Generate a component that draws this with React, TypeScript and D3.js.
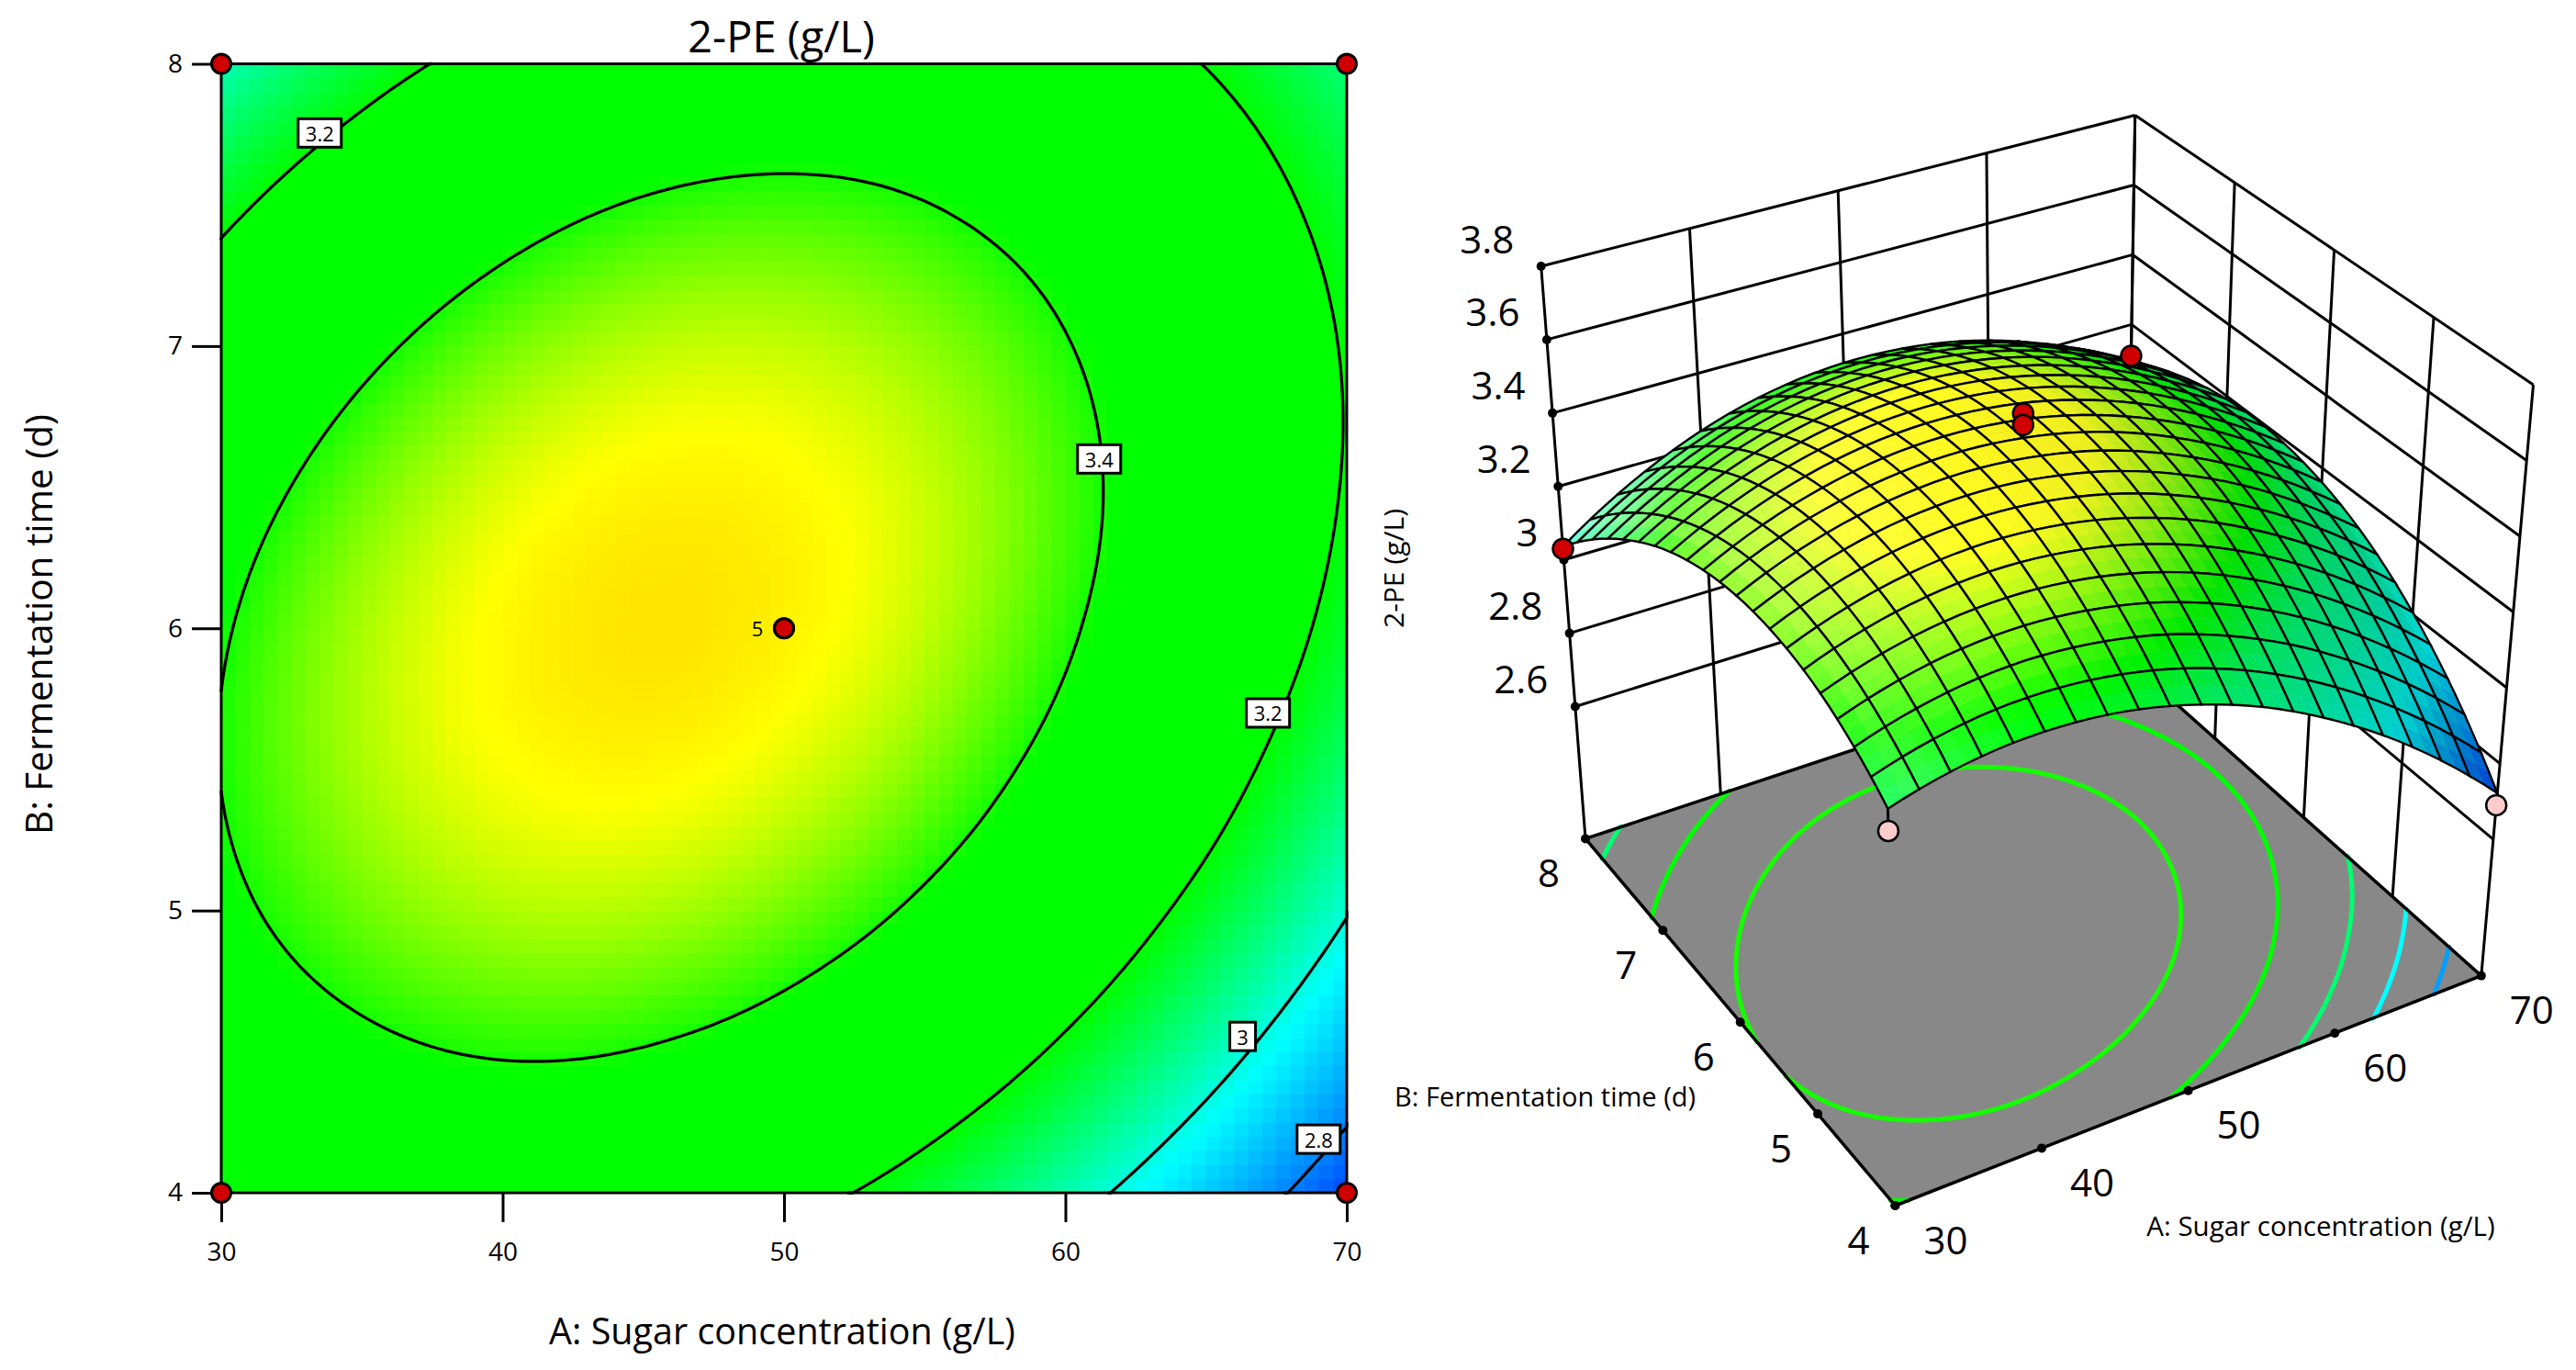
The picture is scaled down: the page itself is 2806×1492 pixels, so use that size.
import { useEffect, useRef } from "react";
import * as d3 from "d3";

const sugarGrid = [30, 34, 38, 42, 46, 50, 54, 58, 62, 66, 70];
const timeGrid = [4, 4.4, 4.8, 5.2, 5.6, 6, 6.4, 6.8, 7.2, 7.6, 8];
const peValues = [
  [3.239, 3.279, 3.299, 3.298, 3.277, 3.235, 3.174, 3.091, 2.989, 2.866, 2.722],
  [3.31, 3.356, 3.382, 3.387, 3.371, 3.336, 3.279, 3.203, 3.106, 2.989, 2.851],
  [3.362, 3.413, 3.444, 3.455, 3.445, 3.415, 3.365, 3.294, 3.203, 3.091, 2.959],
  [3.392, 3.449, 3.486, 3.503, 3.499, 3.475, 3.43, 3.365, 3.279, 3.174, 3.047],
  [3.402, 3.465, 3.508, 3.53, 3.532, 3.513, 3.475, 3.415, 3.336, 3.235, 3.115],
  [3.392, 3.461, 3.509, 3.537, 3.545, 3.532, 3.499, 3.445, 3.371, 3.277, 3.162],
  [3.362, 3.436, 3.49, 3.524, 3.537, 3.53, 3.503, 3.455, 3.387, 3.298, 3.189],
  [3.311, 3.391, 3.451, 3.49, 3.509, 3.508, 3.486, 3.444, 3.382, 3.299, 3.196],
  [3.239, 3.325, 3.391, 3.436, 3.461, 3.465, 3.449, 3.413, 3.356, 3.279, 3.182],
  [3.148, 3.239, 3.311, 3.362, 3.392, 3.402, 3.392, 3.361, 3.31, 3.239, 3.147],
  [3.036, 3.133, 3.21, 3.267, 3.303, 3.319, 3.314, 3.29, 3.244, 3.179, 3.093],
];

const sugarTicks = [30, 40, 50, 60, 70];
const timeTicks = [4, 5, 6, 7, 8];
const peTicks = [2.6, 2.8, 3, 3.2, 3.4, 3.6, 3.8];

const contourLevels = [2.8, 3, 3.2, 3.4];
const floorLevels = [2.84, 2.97, 3.1, 3.25, 3.4];

const labelText = ["3.2", "3.4", "3.2", "3", "2.8"];
const labelSugar = [33.5, 61.2, 67.2, 66.3, 69];
const labelTime = [7.755, 6.6, 5.7, 4.554, 4.19];

const designSugar = [30, 70, 30, 70, 50, 50];
const designTime = [4, 4, 8, 8, 6, 6];
const designPE = [3.183, 2.69, 3.03, 3.11, 3.598, 3.567];
const designAbove = [false, false, true, true, true, true];

const FONT = "'Open Sans', 'Noto Sans', sans-serif";
const W = 2806;
const H = 1492;
const PE_FLOOR = 2.24;
const PE_TOP = 3.8;

// box corners of the 3D frame on screen, [sugar low/high][time low/high]
const floorBox = [
  [[2064.4, 1313], [1727, 913.4]],
  [[2702.8, 1062.6], [2316, 718]],
];
const topBox = [
  [[2052, 638], [1678.7, 290]],
  [[2759.5, 419], [2325.7, 125.5]],
];

const color2d = d3
  .scaleLinear<string>()
  .domain([2.6, 2.72, 2.97, 3.2, 3.39, 3.52, 3.55])
  .range(["#0000ff", "#0046ff", "#00ffff", "#00ff00", "#00ff00", "#ffff00", "#ffe000"])
  .clamp(true);

const color3d = d3
  .scaleLinear<string>()
  .domain([2.6, 2.72, 2.97, 3.22, 3.33, 3.5, 3.55])
  .range(["#0000ff", "#0046ff", "#00ffff", "#00ff70", "#00ff00", "#ffff20", "#fff820"])
  .clamp(true);

// catmull-rom through the table so the fill and lines stay smooth
const padRow = (r: number[]) => [
  3 * r[0] - 3 * r[1] + r[2],
  ...r,
  3 * r[r.length - 1] - 3 * r[r.length - 2] + r[r.length - 3],
];
const padded = (() => {
  const rows = peValues.map(padRow);
  const n = rows.length;
  return [
    rows[0].map((_, k) => 3 * rows[0][k] - 3 * rows[1][k] + rows[2][k]),
    ...rows,
    rows[0].map((_, k) => 3 * rows[n - 1][k] - 3 * rows[n - 2][k] + rows[n - 3][k]),
  ];
})();
const cr = (p0: number, p1: number, p2: number, p3: number, t: number) =>
  0.5 * (2 * p1 + (p2 - p0) * t + (2 * p0 - 5 * p1 + 4 * p2 - p3) * t * t + (3 * p1 - p0 - 3 * p2 + p3) * t * t * t);

const stepA = sugarGrid[1] - sugarGrid[0];
const stepB = timeGrid[1] - timeGrid[0];
function peAt(A: number, B: number) {
  const u = (A - sugarGrid[0]) / stepA;
  const v = (B - timeGrid[0]) / stepB;
  const i = Math.max(0, Math.min(sugarGrid.length - 2, Math.floor(u)));
  const j = Math.max(0, Math.min(timeGrid.length - 2, Math.floor(v)));
  const row = (r: number) => cr(padded[r][i], padded[r][i + 1], padded[r][i + 2], padded[r][i + 3], u - i);
  return cr(row(j), row(j + 1), row(j + 2), row(j + 3), v - j);
}

const uScale = d3.scaleLinear([30, 70], [0, 1]);
const vScale = d3.scaleLinear([4, 8], [0, 1]);
const wScale = d3.scaleLinear([PE_FLOOR, PE_TOP], [0, 1]);

function project(A: number, B: number, z: number): [number, number] {
  const u = uScale(A);
  const v = vScale(B);
  const w = wScale(z);
  const bilinear = (box: number[][][], k: number) =>
    (1 - u) * (1 - v) * box[0][0][k] + u * (1 - v) * box[1][0][k] + (1 - u) * v * box[0][1][k] + u * v * box[1][1][k];
  return [
    (1 - w) * bilinear(floorBox, 0) + w * bilinear(topBox, 0),
    (1 - w) * bilinear(floorBox, 1) + w * bilinear(topBox, 1),
  ];
}

// contour polylines in data coordinates, without the runs along the domain edge
function contourLines(level: number) {
  const N = 161;
  const values: number[] = [];
  for (let y = 0; y < N; y++) {
    for (let x = 0; x < N; x++) {
      values.push(peAt(30 + (40 * x) / (N - 1), 4 + (4 * y) / (N - 1)));
    }
  }
  const shape = d3.contours().size([N, N]).thresholds([level])(values)[0];
  const onEdge = (p: number[]) => p[0] <= 0 || p[0] >= N || p[1] <= 0 || p[1] >= N;
  const toData = (p: number[]): [number, number] => [
    30 + 40 * Math.max(0, Math.min(1, (p[0] - 0.5) / (N - 1))),
    4 + 4 * Math.max(0, Math.min(1, (p[1] - 0.5) / (N - 1))),
  ];
  const lines: [number, number][][] = [];
  shape.coordinates.forEach((poly) =>
    poly.forEach((ring) => {
      let cur: [number, number][] = [];
      for (let k = 1; k < ring.length; k++) {
        if (onEdge(ring[k - 1]) && onEdge(ring[k])) {
          if (cur.length) lines.push(cur);
          cur = [];
        } else {
          if (!cur.length) cur.push(toData(ring[k - 1]));
          cur.push(toData(ring[k]));
        }
      }
      if (cur.length) lines.push(cur);
    })
  );
  return lines;
}

// light comes from the low-sugar side
function shade(base: string, A: number, B: number) {
  const dA = (peAt(Math.min(70, A + 1), B) - peAt(Math.max(30, A - 1), B)) * 10;
  const dB = (peAt(A, Math.min(8, B + 0.1)) - peAt(A, Math.max(4, B - 0.1))) * 5;
  const t = Math.max(-1, Math.min(1, dA * 1.5 - dB * 0.15));
  const c = d3.rgb(base);
  if (t > 0) {
    const m = Math.min(1, t * 0.7);
    return d3.rgb(c.r + (255 - c.r) * m, c.g + (255 - c.g) * m * 0.5, c.b + (255 - c.b) * m * 0.6).formatHex();
  }
  const m = 1 + t * 0.2;
  return d3.rgb(c.r * m, c.g * m, c.b * m).formatHex();
}

export default function App() {
  const svgRef = useRef<SVGSVGElement>(null);

  useEffect(() => {
    const svg = d3.select(svgRef.current);
    svg.selectAll("*").remove();

    // ---- contour plot ----
    const x = d3.scaleLinear([30, 70], [241, 1467]);
    const y = d3.scaleLinear([4, 8], [1299, 69.5]);
    const g2 = svg.append("g");

    const cells = d3.range(80);
    const bandX = d3.scaleBand(cells, [241, 1467]);
    const bandY = d3.scaleBand(cells, [1299, 69.5]);
    const heat = g2.append("g").attr("shape-rendering", "crispEdges");
    cells.forEach((j) =>
      cells.forEach((i) => {
        heat
          .append("rect")
          .attr("x", bandX(i)!)
          .attr("y", bandY(j)!)
          .attr("width", bandX.bandwidth() + 0.6)
          .attr("height", bandY.bandwidth() + 0.6)
          .attr("fill", color2d(peAt(x.invert(bandX(i)! + bandX.bandwidth() / 2), y.invert(bandY(j)! + bandY.bandwidth() / 2))));
      })
    );

    const line2 = d3
      .line<[number, number]>()
      .x((d) => x(d[0]))
      .y((d) => y(d[1]));
    contourLevels.forEach((level) =>
      contourLines(level).forEach((l) =>
        g2.append("path").attr("d", line2(l)).attr("fill", "none").attr("stroke", "#000").attr("stroke-width", 3.3)
      )
    );

    g2.append("rect")
      .attr("x", 241)
      .attr("y", 69.5)
      .attr("width", 1226)
      .attr("height", 1229.5)
      .attr("fill", "none")
      .attr("stroke", "#000")
      .attr("stroke-width", 3);

    const xAxis = g2
      .append("g")
      .attr("transform", "translate(0,1299)")
      .call(d3.axisBottom(x).tickValues(sugarTicks).tickSize(32).tickPadding(22).tickFormat(d3.format("d")));
    const yAxis = g2
      .append("g")
      .attr("transform", "translate(241,0)")
      .call(d3.axisLeft(y).tickValues(timeTicks).tickSize(32).tickPadding(10).tickFormat(d3.format("d")));
    [xAxis, yAxis].forEach((a) => {
      a.select(".domain").remove();
      a.selectAll("line").attr("stroke", "#000").attr("stroke-width", 3);
      a.selectAll("text").attr("font-family", FONT).attr("font-size", 28).attr("fill", "#000");
    });

    const text = (
      parent: d3.Selection<any, any, any, any>,
      s: string,
      tx: number,
      ty: number,
      size: number,
      rotate = 0
    ) =>
      parent
        .append("text")
        .attr("transform", `translate(${tx},${ty}) rotate(${rotate})`)
        .attr("text-anchor", "middle")
        .attr("dominant-baseline", "central")
        .attr("font-family", FONT)
        .attr("font-size", size)
        .attr("fill", "#000")
        .text(s);

    text(g2, "2-PE (g/L)", 851, 39, 47);
    text(g2, "A: Sugar concentration (g/L)", 852, 1449, 39.5);
    text(g2, "B: Fermentation time (d)", 41, 680, 40.5, -90);

    labelText.forEach((s, i) => {
      const w = s.length > 1 ? 47 : 28;
      g2.append("rect")
        .attr("x", x(labelSugar[i]) - w / 2)
        .attr("y", y(labelTime[i]) - 15.5)
        .attr("width", w)
        .attr("height", 31)
        .attr("fill", "#fff")
        .attr("stroke", "#000")
        .attr("stroke-width", 3);
      text(g2, s, x(labelSugar[i]), y(labelTime[i]), 22);
    });

    text(g2, "5", x(50) - 29, y(6), 22);
    designSugar.forEach((a, i) => {
      g2.append("circle")
        .attr("cx", x(a))
        .attr("cy", y(designTime[i]))
        .attr("r", 10.5)
        .attr("fill", "#d00000")
        .attr("stroke", "#000")
        .attr("stroke-width", 3);
    });

    // ---- 3D plot ----
    const g3 = svg.append("g");
    const seg = (p: [number, number], q: [number, number], sw = 3, col = "#000") =>
      g3
        .append("line")
        .attr("x1", p[0])
        .attr("y1", p[1])
        .attr("x2", q[0])
        .attr("y2", q[1])
        .attr("stroke", col)
        .attr("stroke-width", sw);

    // walls
    peTicks.forEach((z) => {
      seg(project(30, 8, z), project(70, 8, z));
      seg(project(70, 8, z), project(70, 4, z));
    });
    sugarTicks.forEach((a) => seg(project(a, 8, PE_FLOOR), project(a, 8, PE_TOP)));
    timeTicks.forEach((b) => seg(project(70, b, PE_FLOOR), project(70, b, PE_TOP)));

    // floor
    const polyPath = d3.line();
    const floorCorners = [
      project(30, 4, PE_FLOOR),
      project(70, 4, PE_FLOOR),
      project(70, 8, PE_FLOOR),
      project(30, 8, PE_FLOOR),
    ];
    g3.append("path")
      .attr("d", polyPath(floorCorners) + "Z")
      .attr("fill", "#888888");

    const lineFloor = d3
      .line<[number, number]>()
      .x((d) => project(d[0], d[1], PE_FLOOR)[0])
      .y((d) => project(d[0], d[1], PE_FLOOR)[1]);
    floorLevels.forEach((level) =>
      contourLines(level).forEach((l) =>
        g3.append("path")
          .attr("d", lineFloor(l))
          .attr("fill", "none")
          .attr("stroke", color2d(level))
          .attr("stroke-width", 5)
      )
    );
    g3.append("path")
      .attr("d", polyPath(floorCorners) + "Z")
      .attr("fill", "none")
      .attr("stroke", "#000")
      .attr("stroke-width", 3.5);

    // axis dots on the two visible edges and the height axis
    const tickDot = (p: [number, number]) =>
      g3.append("circle").attr("cx", p[0]).attr("cy", p[1]).attr("r", 5).attr("fill", "#000");
    sugarTicks.forEach((a) => {
      const p = project(a, 4, PE_FLOOR);
      tickDot(p);
      text(g3, String(a), p[0] + 55, p[1] + 36, 42);
    });
    timeTicks.forEach((b) => {
      const p = project(30, b, PE_FLOOR);
      tickDot(p);
      text(g3, String(b), p[0] - 40, p[1] + 36, 42);
    });
    peTicks.forEach((z) => {
      const p = project(30, 8, z);
      tickDot(p);
      text(g3, String(z), p[0] + (z === 3 ? -40 : -59), p[1] - 31, 42);
    });
    text(g3, "A: Sugar concentration (g/L)", 2528, 1334, 29.5);
    text(g3, "B: Fermentation time (d)", 1683, 1193, 29);
    text(g3, "2-PE (g/L)", 1517, 619, 30, -90);

    // dots that sit under the surface go first
    const designDot = (i: number) => {
      const p = project(designSugar[i], designTime[i], designPE[i]);
      const s = project(designSugar[i], designTime[i], peAt(designSugar[i], designTime[i]));
      seg(p, s, 3);
      g3.append("circle")
        .attr("cx", p[0])
        .attr("cy", p[1])
        .attr("r", 11)
        .attr("fill", designAbove[i] ? "#d00000" : "#ffcccc")
        .attr("stroke", "#000")
        .attr("stroke-width", 2.5);
    };
    designSugar.forEach((_, i) => {
      if (!designAbove[i]) designDot(i);
    });

    // surface, far corner first
    const meshA = d3.range(21).map((k) => 30 + k * 2);
    const meshB = d3.range(21).map((k) => 4 + k * 0.2);
    const surface = g3.append("g");
    const pt = (A: number, B: number) => project(A, B, peAt(A, B));
    for (let j = 19; j >= 0; j--) {
      for (let i = 19; i >= 0; i--) {
        const a0 = meshA[i];
        const b0 = meshB[j];
        const da = 1;
        const db = 0.1;
        [[1, 1], [0, 1], [1, 0], [0, 0]].forEach(([si, sj]) => {
          const a = a0 + si * da;
          const b = b0 + sj * db;
          const col = shade(color3d(peAt(a + da / 2, b + db / 2)), a + da / 2, b + db / 2);
          surface
            .append("path")
            .attr("d", polyPath([pt(a, b), pt(a + da, b), pt(a + da, b + db), pt(a, b + db)]) + "Z")
            .attr("fill", col)
            .attr("stroke", col)
            .attr("stroke-width", 0.6);
        });
        const outline: [number, number][] = [
          pt(a0, b0),
          pt(a0 + 1, b0),
          pt(a0 + 2, b0),
          pt(a0 + 2, b0 + 0.1),
          pt(a0 + 2, b0 + 0.2),
          pt(a0 + 1, b0 + 0.2),
          pt(a0, b0 + 0.2),
          pt(a0, b0 + 0.1),
        ];
        surface
          .append("path")
          .attr("d", polyPath(outline) + "Z")
          .attr("fill", "none")
          .attr("stroke", "#000")
          .attr("stroke-width", 2.4);
      }
    }

    designSugar.forEach((_, i) => {
      if (designAbove[i]) designDot(i);
    });
  }, []);

  return (
    <svg
      ref={svgRef}
      width={W}
      height={H}
      viewBox={`0 0 ${W} ${H}`}
      style={{ position: "absolute", left: 0, top: 0, background: "#fff" }}
    />
  );
}
